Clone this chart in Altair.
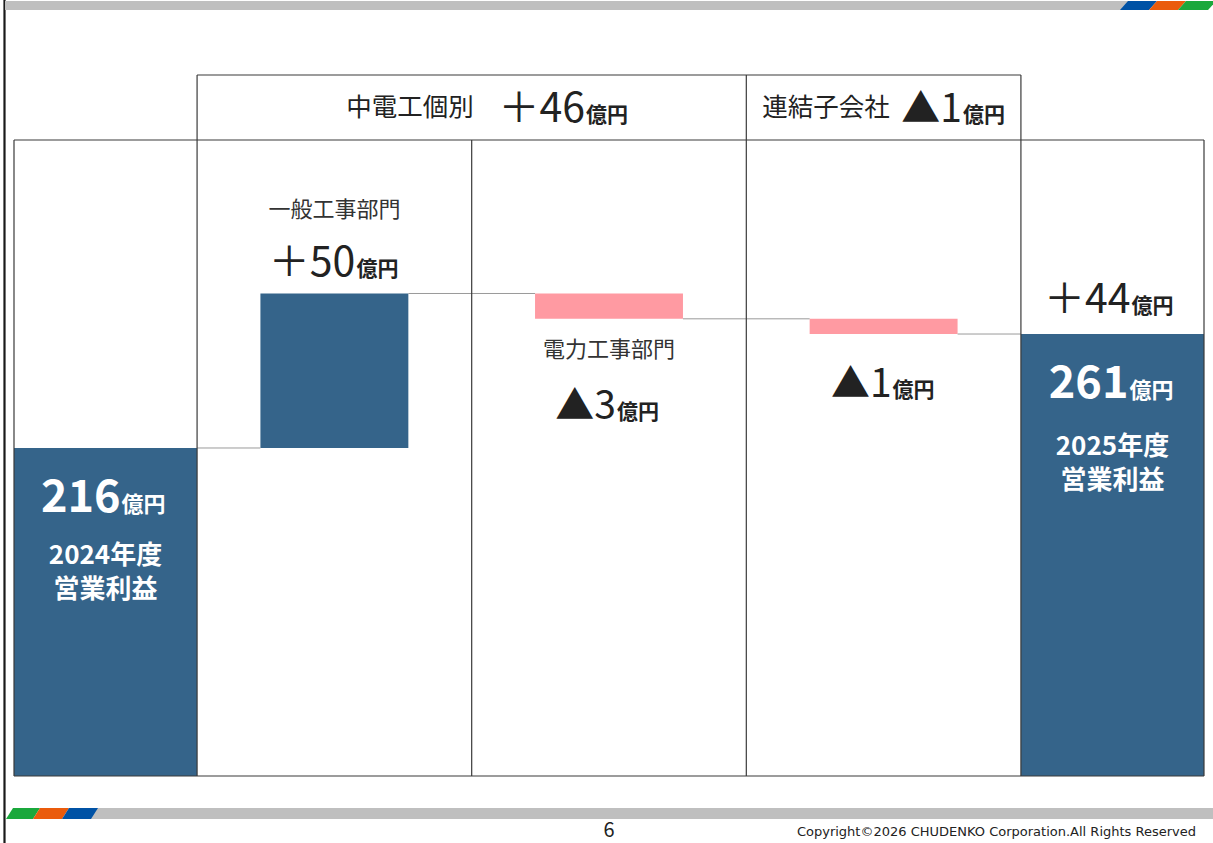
import altair as alt
import pandas as pd

# ------------------------------------------------------------------ data
start_label = "2024年度"
end_label = "2025年度"
total_label = "営業利益"
start_value = 216
end_value = 261
step_names = ["一般工事部門", "電力工事部門", "連結子会社"]
step_values = [50, -3, -1]
# cumulative bar tops as drawn on the slide (the slide is not drawn to scale)
drawn_levels = [216, 277, 267, 261]
group_names = ["中電工個別", "連結子会社"]
group_values = [46, -1]
total_change = 44
unit = "億円"
page_number = "6"
copyright_text = "Copyright©2026 CHUDENKO Corporation.All Rights Reserved"

# ------------------------------------------------------------------ layout / style
FONT = "Noto Sans CJK JP"
W, H = 1213, 843
X_DOMAIN, X_RANGE = [0, 6.5], [14, 1204]
Y_DOMAIN, Y_RANGE = [86.5, 337.6], [776, 140]
COL_EDGES = [0, 1, 2.5, 4, 5.5, 6.5]
COL_CENTERS = [0.5, 1.75, 3.25, 4.75, 6.0]
BAR_HALF = 0.404
BLUE = "#35648A"
PINK = "#FF9AA2"
FRAME = "#3a3a3a"
TXT = "#222222"

xs = alt.Scale(domain=X_DOMAIN, range=X_RANGE, nice=False, zero=False)
ys = alt.Scale(domain=Y_DOMAIN, range=Y_RANGE, nice=False, zero=False)


def px(u):
    return X_RANGE[0] + (u - X_DOMAIN[0]) * (X_RANGE[1] - X_RANGE[0]) / (X_DOMAIN[1] - X_DOMAIN[0])


def fmt(v):
    return f"＋{v}" if v > 0 else f"▲{abs(v)}"


layers = []

# ------------------------------------------------------------------ bars
rows = [dict(x=COL_EDGES[0], x2=COL_EDGES[1], y=Y_DOMAIN[0], y2=start_value, c=BLUE)]
for i, v in enumerate(step_values):
    c = COL_CENTERS[i + 1]
    rows.append(dict(x=c - BAR_HALF, x2=c + BAR_HALF, y=drawn_levels[i], y2=drawn_levels[i + 1],
                     c=BLUE if v > 0 else PINK))
rows.append(dict(x=COL_EDGES[4], x2=COL_EDGES[5], y=Y_DOMAIN[0], y2=end_value, c=BLUE))
bars_df = pd.DataFrame(rows)

layers.append(alt.Chart(bars_df).mark_rect().encode(
    x=alt.X("x:Q", scale=xs, axis=None), x2="x2:Q",
    y=alt.Y("y:Q", scale=ys, axis=None), y2="y2:Q",
    color=alt.Color("c:N", scale=None)))

# connectors
conn = []
for i in range(len(rows) - 1):
    conn.append(dict(x=rows[i]["x2"], x2=rows[i + 1]["x"], y=drawn_levels[i]))
layers.append(alt.Chart(pd.DataFrame(conn)).mark_rule(color="#9a9a9a", strokeWidth=1).encode(
    x=alt.X("x:Q", scale=xs, axis=None), x2="x2:Q",
    y=alt.Y("y:Q", scale=ys, axis=None)))

# ------------------------------------------------------------------ frame (decoration, pixels)
top_px, bot_px = Y_RANGE[1], Y_RANGE[0]
head_top = 75
lines = []
lines.append(dict(x=X_RANGE[0], y=top_px, x2=X_RANGE[1], y2=top_px))
lines.append(dict(x=X_RANGE[0], y=bot_px, x2=X_RANGE[1], y2=bot_px))
for e in COL_EDGES:
    lines.append(dict(x=px(e), y=top_px, x2=px(e), y2=bot_px))
# header box
lines.append(dict(x=px(1), y=head_top, x2=px(5.5), y2=head_top))
for e in [1, 4, 5.5]:
    lines.append(dict(x=px(e), y=head_top, x2=px(e), y2=top_px))
# page border at left
lines.append(dict(x=4.5, y=0, x2=4.5, y2=H))
lines_df = pd.DataFrame(lines)
lines_df["w"] = [1.2] * (len(lines) - 1) + [2.2]
lines_df["c"] = [FRAME] * (len(lines) - 1) + ["#1a1a1a"]
layers.append(alt.Chart(lines_df).mark_rule().encode(
    x=alt.X("x:Q", scale=None, axis=None), x2="x2:Q",
    y=alt.Y("y:Q", scale=None, axis=None), y2="y2:Q",
    strokeWidth=alt.StrokeWidth("w:Q", scale=None),
    color=alt.Color("c:N", scale=None)))

# ------------------------------------------------------------------ top / bottom bands
GRAY = "#BFBFBF"
BBLUE, BORANGE, BGREEN = "#0052A5", "#EA5B0C", "#1AA83C"
band_rects = pd.DataFrame([
    dict(x=5, x2=1128, y=1, y2=10, c=GRAY),
    dict(x=91, x2=W, y=808, y2=819, c=GRAY),
])
layers.append(alt.Chart(band_rects).mark_rect().encode(
    x=alt.X("x:Q", scale=None, axis=None), x2="x2:Q",
    y=alt.Y("y:Q", scale=None, axis=None), y2="y2:Q",
    color=alt.Color("c:N", scale=None)))

shapes = []


def para(key, a, b, ytop, ybot, s, color):
    for xx, yy, yy2 in [(a - s, ybot, ybot), (a, ytop, ybot), (b - s, ytop, ybot), (b, ytop, ytop)]:
        shapes.append(dict(k=key, x=xx, y=yy, y2=yy2, c=color))


para("t1", 1128, 1157, 1, 10, 8, BBLUE)
para("t2", 1157, 1186, 1, 10, 8, BORANGE)
para("t3", 1186, 1216, 1, 10, 8, BGREEN)
para("b1", 13, 40, 808, 819, 7, BGREEN)
para("b2", 40, 69, 808, 819, 7, BORANGE)
para("b3", 69, 98, 808, 819, 7, BBLUE)
layers.append(alt.Chart(pd.DataFrame(shapes)).mark_area(interpolate="linear").encode(
    x=alt.X("x:Q", scale=None, axis=None),
    y=alt.Y("y:Q", scale=None, axis=None), y2="y2:Q",
    detail="k:N",
    color=alt.Color("c:N", scale=None)))


# ------------------------------------------------------------------ text helpers
def data_text(u, level, text, dx=0, dy=0, **kw):
    df = pd.DataFrame({"u": [u], "v": [level], "t": [text]})
    return alt.Chart(df).mark_text(font=FONT, dx=dx, dy=dy, **kw).encode(
        x=alt.X("u:Q", scale=xs, axis=None),
        y=alt.Y("v:Q", scale=ys, axis=None),
        text="t:N")


def pix_text(x, y, text, font=FONT, **kw):
    df = pd.DataFrame({"x": [x], "y": [y], "t": [text]})
    return alt.Chart(df).mark_text(font=font, **kw).encode(
        x=alt.X("x:Q", scale=None, axis=None),
        y=alt.Y("y:Q", scale=None, axis=None),
        text="t:N")


def num_unit(u, level, num, dx, dy, color, weight, size=41, usize=21):
    return [
        data_text(u, level, num, dx=dx, dy=dy, align="right", baseline="alphabetic",
                  fontSize=size, fontWeight=weight, color=color),
        data_text(u, level, unit, dx=dx + 1, dy=dy, align="left", baseline="alphabetic",
                  fontSize=usize, fontWeight="bold", color=color),
    ]


def two_lines(u, level, first, dy):
    return data_text(u, level, f"{first}\n{total_label}", dy=dy, baseline="middle",
                     lineBreak="\n", lineHeight=34,
                     fontSize=26, fontWeight="bold", color="white")


# start bar
layers += num_unit(COL_CENTERS[0], start_value, str(start_value), 15, 64, "white", "bold", 45, 22)
layers.append(two_lines(COL_CENTERS[0], start_value, start_label, 108))

# step 1 (general works)
layers.append(data_text(COL_CENTERS[1], drawn_levels[1], step_names[0], dy=-83, baseline="middle",
                        fontSize=22, color="#333333"))
layers += num_unit(COL_CENTERS[1], drawn_levels[1], fmt(step_values[0]), 21, -17, TXT, "normal")

# step 2 (power works)
layers.append(data_text(COL_CENTERS[2], drawn_levels[2], step_names[1], dy=31, baseline="middle",
                        fontSize=22, color="#333333"))
layers += num_unit(COL_CENTERS[2], drawn_levels[2], fmt(step_values[1]), 7, 100, TXT, "normal", 39)

# step 3 (subsidiaries)
layers += num_unit(COL_CENTERS[3], drawn_levels[3], fmt(step_values[2]), 8, 63, TXT, "normal", 39)

# end bar
layers += num_unit(COL_CENTERS[4], end_value, fmt(total_change), 18, -21, TXT, "normal")
layers += num_unit(COL_CENTERS[4], end_value, str(end_value), 16, 64, "white", "bold", 45, 22)
layers.append(two_lines(COL_CENTERS[4], end_value, end_label, 113))

# header
layers.append(pix_text(410, 108, group_names[0], baseline="middle", fontSize=25.5, color=TXT))
layers.append(pix_text(585, 122, fmt(group_values[0]), align="right", baseline="alphabetic",
                       fontSize=41, color=TXT))
layers.append(pix_text(586, 122, unit, align="left", baseline="alphabetic",
                       fontSize=21, fontWeight="bold", color=TXT))
layers.append(pix_text(826, 108, group_names[1], baseline="middle", fontSize=25.5, color=TXT))
layers.append(pix_text(962, 122, fmt(group_values[1]), align="right", baseline="alphabetic",
                       fontSize=39, color=TXT))
layers.append(pix_text(963, 122, unit, align="left", baseline="alphabetic",
                       fontSize=21, fontWeight="bold", color=TXT))

# footer
layers.append(pix_text(609, 831, page_number, baseline="middle", fontSize=20, color=TXT))
layers.append(pix_text(1196, 832, copyright_text, font="DejaVu Sans", align="right", baseline="middle",
                       fontSize=13, color=TXT))

chart = alt.layer(*layers).resolve_scale(
    x="independent", y="independent", color="independent", strokeWidth="independent"
).properties(
    width=W, height=H, padding=0, background="white",
    autosize=alt.AutoSizeParams(type="none"),
).configure_view(stroke=None)

chart.save("out.html", embed_options={"renderer": "svg", "actions": False})
